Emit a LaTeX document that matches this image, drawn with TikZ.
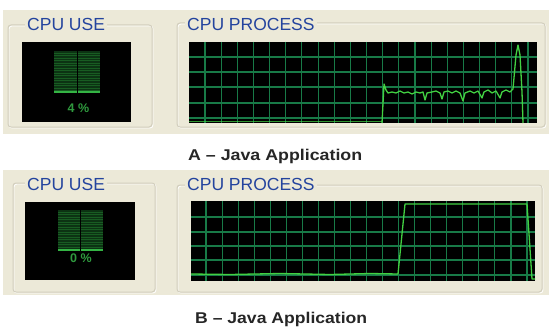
\documentclass[tikz,border=0pt]{standalone}
\usepackage{fontspec}
\setmainfont{Liberation Sans}
\usepackage{graphicx}
\definecolor{xpbeige}{HTML}{ECE9D8}
\definecolor{frameline}{HTML}{D2CEBD}
\definecolor{titleblue}{HTML}{24449E}
\definecolor{gridgreen}{HTML}{187A47}
\definecolor{tracegreen}{HTML}{42D042}
\definecolor{bardark}{HTML}{0C3313}
\definecolor{barline}{HTML}{185C22}
\definecolor{barlevel}{HTML}{34B444}
\definecolor{pcttext}{HTML}{2F9A3E}
\tikzset{
  panel/.style={fill=xpbeige, draw=none},
  groupbox/.style={draw=frameline, line width=1pt, rounded corners=3pt},
  grouphl/.style={draw=white, line width=0.8pt, rounded corners=3pt},
  screen/.style={fill=black, draw=none},
  title/.style={text=titleblue, font=\fontsize{17.5}{18}\selectfont, fill=xpbeige,
    inner xsep=2pt, inner ysep=0pt, anchor=west},
  gridline/.style={draw=gridgreen, line width=1.1pt},
  trace/.style={draw=tracegreen, line width=1.3pt, line join=round},
  caption/.style={anchor=base west, inner sep=0pt, text=black!85},
  pct/.style={text=pcttext, font=\bfseries\fontsize{12.5}{13}\selectfont, inner sep=0pt}
}
\newcommand{\meterbars}[4]{% x0, y0, x1, y1
  \fill[bardark] (#1,#2) rectangle (#3,#4);
  \foreach \yy in {2,4.5,...,40} {
    \pgfmathsetmacro{\yl}{#2+\yy}
    \pgfmathparse{\yl<#4-2?1:0}
    \ifnum\pgfmathresult=1
      \draw[barline, line width=0.8pt] (#1,\yl) -- (#3,\yl);
    \fi
  }
  \draw[barlevel, line width=2pt] (#1,#4-1.2) -- (#3,#4-1.2);
  \draw[black, line width=1pt] ({(#1+#3)/2},#2) -- ({(#1+#3)/2},#4);
}
\begin{document}
\begin{tikzpicture}[x=1pt, y=-1pt]
\useasboundingbox[fill=white] (0,0) rectangle (549,329);

% ---------------- upper window (A) ----------------
\fill[panel] (3,10) rectangle (549,134);
\draw[grouphl] (9,26) rectangle (153,128);
\draw[groupbox] (8,25) rectangle (152,127);
\draw[grouphl] (178,24) rectangle (546,128);
\draw[groupbox] (177,23) rectangle (545,127);
\node[title] (useA) at (25,24.5) {CPU USE};
\node[title] (procA) at (185,24.5) {CPU PROCESS};

% usage meter
\fill[screen] (22,42) rectangle (131,122);
\meterbars{54}{51}{100}{93}
\node[pct] (pctA) at (78.5,108) {4 \%};

% history graph
\fill[screen] (189,42) rectangle (537,123);
\begin{scope}
\clip (189,42) rectangle (537,123);
\foreach \gy in {57,72,87,103,118} \draw[gridline] (189,\gy) -- (537,\gy);
\foreach \k in {0,...,20} \draw[gridline] ({205+16.15*\k},42) -- ({205+16.15*\k},123);
\draw[trace, line width=1pt, draw opacity=0.7] (189,121.5) -- (382,121.5);
\draw[trace] (382,123) -- (384,84) -- (386,90) -- (388,93) -- (392,92) -- (396,93)
  -- (400,91) -- (404,93) -- (408,92) -- (412,94) -- (416,92) -- (420,93) -- (423,92)
  -- (425,100) -- (427,93) -- (432,92) -- (436,91) -- (440,93) -- (442,99) -- (444,92)
  -- (448,91) -- (452,93) -- (456,91) -- (460,93) -- (463,101) -- (465,93) -- (470,91)
  -- (474,93) -- (478,91) -- (482,98) -- (484,92) -- (488,90) -- (492,93) -- (496,91)
  -- (500,98) -- (502,92) -- (506,90) -- (510,92) -- (513,89) -- (516,55) -- (518,45)
  -- (520,55) -- (522,92) -- (523,123);
\end{scope}

\node[caption] (capA) at (188,160) {\resizebox{174pt}{11.3pt}{\bfseries A -- Java Application}};

% ---------------- lower window (B) ----------------
\fill[panel] (3,170) rectangle (549,295);
\draw[grouphl] (14,184) rectangle (156,293);
\draw[groupbox] (13,183) rectangle (155,292);
\draw[grouphl] (178,186) rectangle (543,293);
\draw[groupbox] (177,185) rectangle (542,292);
\node[title] (useB) at (25,184.5) {CPU USE};
\node[title] (procB) at (185,184.5) {CPU PROCESS};

% usage meter
\fill[screen] (25,202) rectangle (135,280);
\meterbars{58}{210}{103}{251}
\node[pct] (pctB) at (81,258.5) {0 \%};

% history graph
\fill[screen] (191,201) rectangle (535,281);
\begin{scope}
\clip (191,201) rectangle (535,281);
\foreach \gy in {217,232,246,260,275} \draw[gridline] (191,\gy) -- (535,\gy);
\foreach \k in {0,...,20} \draw[gridline] ({206+16.05*\k},201) -- ({206+16.05*\k},281);
\draw[trace] (191,274) -- (230,274.5) -- (280,273.5) -- (330,274.5) -- (370,273.5)
  -- (398,274) -- (405,204) -- (527,204) -- (532,279) -- (535,279);
\end{scope}

\node[caption] (capB) at (195,323) {\resizebox{172pt}{11.3pt}{\bfseries B -- Java Application}};
\end{tikzpicture}
\end{document}
